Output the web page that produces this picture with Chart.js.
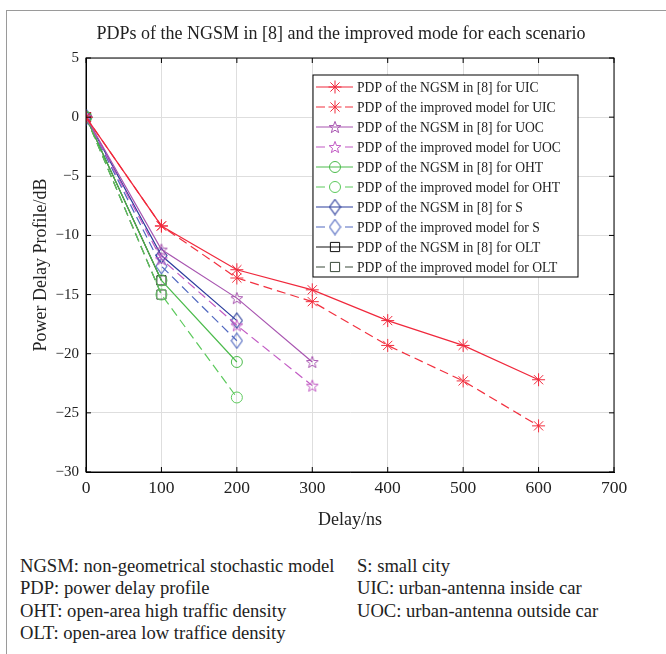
<!DOCTYPE html>
<html>
<head>
<meta charset="utf-8">
<script src="https://cdn.jsdelivr.net/npm/chart.js@4/dist/chart.umd.min.js"></script>
<style>
  body { margin: 0; background: #fff; }
  #wrap { position: relative; width: 666px; height: 654px; overflow: hidden; font-family: "Liberation Serif", serif; }
  #frame { position: absolute; left: 6px; top: 10px; width: 700px; height: 700px; border-top: 1px solid #9a9a9a; border-left: 1px solid #9a9a9a; }
  #canvas { position: absolute; left: 0; top: 0; }
  .notes { position: absolute; top: 555px; font-size: 18.6px; line-height: 22.4px; color: #222; white-space: nowrap; }
</style>
</head>
<body>
<div id="wrap">
  <div id="frame"></div>
  <canvas id="canvas" width="666" height="540"></canvas>
  <div class="notes" style="left:20px">
    NGSM: non-geometrical stochastic model<br>
    PDP: power delay profile<br>
    OHT: open-area high traffic density<br>
    OLT: open-area low traffice density
  </div>
  <div class="notes" style="left:357px">
    S: small city<br>
    UIC: urban-antenna inside car<br>
    UOC: urban-antenna outside car
  </div>
</div>
<script>
// valeurs (dB), une entrée par retard
const delays = [0, 100, 200, 300, 400, 500, 600];
const uicNgsm = [0, -9.2, -12.9, -14.6, -17.2, -19.3, -22.2];
const uicImproved = [0, -9.2, -13.6, -15.6, -19.3, -22.3, -26.1];
const uocNgsm = [0, -11.2, -15.3, -20.7];
const uocImproved = [0, -12.0, -17.6, -22.7];
const ohtNgsm = [0, -13.8, -20.7];
const ohtImproved = [0, -15.0, -23.7];
const sNgsm = [0, -11.7, -17.2];
const sImproved = [0, -12.6, -18.9];
const oltNgsm = [0, -13.8];
const oltImproved = [0, -15.0];

const xTicks = [0, 100, 200, 300, 400, 500, 600, 700];
const yTicks = [5, 0, -5, -10, -15, -20, -25, -30];
const title = 'PDPs of the NGSM in [8] and the improved mode for each scenario';

// marqueurs creux dessinés à la main (pentagramme, losange)
function starIcon(color) {
    const c = document.createElement('canvas');
    c.width = 14; c.height = 14;
    const g = c.getContext('2d');
    g.strokeStyle = color; g.lineWidth = 1;
    g.beginPath();
    for (let i = 0; i < 10; i++) {
        const r = i % 2 ? 2.6 : 6.2;
        const a = -Math.PI / 2 + i * Math.PI / 5;
        const px = 7 + r * Math.cos(a), py = 7.6 + r * Math.sin(a);
        if (i) g.lineTo(px, py); else g.moveTo(px, py);
    }
    g.closePath(); g.stroke();
    return c;
}
function diamondIcon(color) {
    const c = document.createElement('canvas');
    c.width = 13; c.height = 17;
    const g = c.getContext('2d');
    g.strokeStyle = color; g.lineWidth = 1.1;
    g.beginPath();
    g.moveTo(6.5, 1); g.lineTo(12, 8.5); g.lineTo(6.5, 16); g.lineTo(1, 8.5);
    g.closePath(); g.stroke();
    return c;
}

function series(label, values, color, style, radius, dashed) {
    return {
        label: label,
        data: values.map((v, i) => ({ x: delays[i], y: v })),
        borderColor: color,
        pointBorderColor: color,
        pointBackgroundColor: 'rgba(0,0,0,0)',
        pointStyle: style,
        pointRadius: radius,
        pointHoverRadius: radius,
        pointBorderWidth: 1,
        borderWidth: 1.2,
        borderDash: dashed ? [9, 5] : [],
        tension: 0,
        fill: false
    };
}

const datasets = [
    series('PDP of the NGSM in [8] for UIC', uicNgsm, '#f0283c', 'star', 6.5, false),
    series('PDP of the improved model for UIC', uicImproved, '#f2303f', 'star', 6.5, true),
    series('PDP of the NGSM in [8] for UOC', uocNgsm, '#a855b0', starIcon('#a855b0'), 6, false),
    series('PDP of the improved model for UOC', uocImproved, '#c25bc4', starIcon('#c25bc4'), 6, true),
    series('PDP of the NGSM in [8] for OHT', ohtNgsm, '#4cbb4c', 'circle', 5.5, false),
    series('PDP of the improved model for OHT', ohtImproved, '#5cc95c', 'circle', 5.5, true),
    series('PDP of the NGSM in [8] for S', sNgsm, '#2b3d9c', diamondIcon('#2b3d9c'), 7, false),
    series('PDP of the improved model for S', sImproved, '#5068c0', diamondIcon('#5068c0'), 7, true),
    series('PDP of the NGSM in [8] for OLT', oltNgsm, '#111111', 'rect', 6.5, false),
    series('PDP of the improved model for OLT', oltImproved, '#3b4a3b', 'rect', 6.5, true)
];

// cadre complet, graduations vers l'intérieur, légende et titre
const decor = {
    id: 'decor',
    afterDraw(chart) {
        const ctx = chart.ctx;
        const a = chart.chartArea;
        const sx = chart.scales.x, sy = chart.scales.y;
        ctx.save();
        ctx.strokeStyle = '#000';
        ctx.lineWidth = 1;
        ctx.strokeRect(a.left, a.top, a.right - a.left, a.bottom - a.top);
        ctx.beginPath();
        xTicks.forEach(v => {
            const px = sx.getPixelForValue(v);
            ctx.moveTo(px, a.bottom); ctx.lineTo(px, a.bottom - 5);
            ctx.moveTo(px, a.top); ctx.lineTo(px, a.top + 5);
        });
        yTicks.forEach(v => {
            const py = sy.getPixelForValue(v);
            ctx.moveTo(a.left, py); ctx.lineTo(a.left + 5, py);
            ctx.moveTo(a.right, py); ctx.lineTo(a.right - 5, py);
        });
        ctx.stroke();

        // légende
        const lx = a.right - 301, ly = a.top + 17, lw = 265, lh = 202;
        ctx.fillStyle = '#fff';
        ctx.fillRect(lx, ly, lw, lh);
        ctx.strokeStyle = '#000';
        ctx.strokeRect(lx, ly, lw, lh);
        ctx.font = '13.6px "Liberation Serif"';
        ctx.textBaseline = 'middle';
        ctx.textAlign = 'left';
        chart.data.datasets.forEach((d, i) => {
            const yy = ly + 12 + i * 20;
            ctx.strokeStyle = d.borderColor;
            ctx.lineWidth = 1.2;
            ctx.beginPath();
            if (d.borderDash.length) {
                ctx.moveTo(lx + 3, yy); ctx.lineTo(lx + 12, yy);
                ctx.moveTo(lx + 32, yy); ctx.lineTo(lx + 40, yy);
            } else {
                ctx.moveTo(lx + 3, yy); ctx.lineTo(lx + 40, yy);
            }
            ctx.stroke();
            ctx.fillStyle = 'rgba(0,0,0,0)';
            ctx.lineWidth = 1;
            Chart.helpers.drawPoint(ctx, { pointStyle: d.pointStyle, radius: d.pointRadius, rotation: 0, borderWidth: 1 }, lx + 22, yy);
            ctx.fillStyle = '#222';
            ctx.fillText(d.label, lx + 44, yy + 1);
        });

        ctx.font = '18px "Liberation Serif"';
        ctx.textAlign = 'center';
        ctx.fillStyle = '#222';
        ctx.fillText(title, 341, 34);
        ctx.restore();
    }
};

const ctx = document.getElementById('canvas').getContext('2d');
const chart = new Chart(ctx, {
    type: 'line',
    data: { datasets: datasets },
    options: {
        responsive: false,
        animation: false,
        layout: { padding: { top: 58, right: 52, left: 0, bottom: 0 } },
        plugins: { legend: { display: false }, title: { display: false }, tooltip: { enabled: false } },
        scales: {
            x: {
                type: 'linear', min: 0, max: 700,
                afterBuildTicks: s => { s.ticks = xTicks.map(v => ({ value: v })); },
                afterFit: s => { s.height = 68; },
                grid: { color: '#dedede', drawTicks: false },
                border: { color: '#000' },
                ticks: { color: '#222', padding: 6, font: { family: 'Liberation Serif', size: 17.5 } },
                title: { display: true, text: 'Delay/ns', color: '#222', padding: { top: 4, bottom: 9 }, font: { family: 'Liberation Serif', size: 18 } }
            },
            y: {
                min: -30, max: 5,
                afterBuildTicks: s => { s.ticks = yTicks.map(v => ({ value: v })); },
                afterFit: s => { s.width = 86; },
                grid: { color: '#dedede', drawTicks: false },
                border: { color: '#000' },
                ticks: {
                    color: '#222', padding: 7, font: { family: 'Liberation Serif', size: 15 },
                    callback: v => String(v).replace('-', '\u2212')
                },
                title: { display: true, text: 'Power Delay Profile/dB', color: '#222', padding: { top: 30, bottom: 4 }, font: { family: 'Liberation Serif', size: 18 } }
            }
        }
    },
    plugins: [decor]
});
</script>
</body>
</html>
